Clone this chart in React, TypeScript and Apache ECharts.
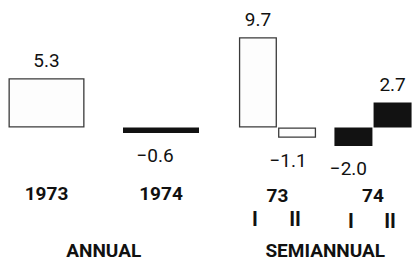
import React, { useEffect, useRef } from "react";
import * as echarts from "echarts";

const annualCats = ["1973", "1974"];
const annualValues = [5.3, -0.6];
const semiCats = ["73", "74"];
const semiFirstHalf = [9.7, -2.0];
const semiSecondHalf = [-1.1, 2.7];
const halfLabels = ["I", "II"];
const groupNames = ["ANNUAL", "SEMIANNUAL"];

const FONT = "'Liberation Sans Narrow', Roboto, sans-serif";
const fmt = (v: number) => (v < 0 ? "\u2212" + Math.abs(v).toFixed(1) : v.toFixed(1));

const lightStyle = { color: "#fdfdfd", borderColor: "#3a3a3a", borderWidth: 1.3 };
const darkStyle = { color: "#121212", borderColor: "#121212", borderWidth: 0 };

export default function App() {
  const ref = useRef<HTMLDivElement>(null);
  useEffect(() => {
    document.body.style.margin = "0";
    const chart = echarts.init(ref.current!, null, { renderer: "svg" });
    const valueLabel = (v: number, offX = 0) => ({
      show: true,
      position: v >= 0 ? "top" : "bottom",
      distance: v >= 0 ? 8 : 13,
      offset: [offX, 0],
      formatter: () => fmt(v),
      fontFamily: FONT,
      fontSize: 19,
      color: "#111",
    });
    const yAxisCommon = {
      type: "value",
      min: -6,
      max: 10,
      show: false,
    };
    const xAxisCommon = {
      type: "category",
      position: "bottom",
      axisLine: { show: false },
      axisTick: { show: false },
      nameLocation: "middle",
      nameMoveOverlap: false,
      nameTextStyle: { fontFamily: FONT, fontSize: 19, fontWeight: "bold", color: "#111" },
      axisLabel: { fontFamily: FONT, fontSize: 19, fontWeight: "bold", color: "#111" },
    };
    const annualOffsets = [0, -6];
    const firstOffsets = [0, -5];
    const secondOffsets = [-9, 0];
    chart.setOption({
      animation: false,
      grid: [
        { left: -10.75, width: 229, top: 34.5, height: 148.8, outerBoundsMode: "none", containLabel: false },
        { left: 229.75, width: 191, top: 34.5, height: 148.8, outerBoundsMode: "none", containLabel: false },
      ],
      xAxis: [
        { ...xAxisCommon, gridIndex: 0, data: annualCats, name: groupNames[0], nameGap: 58, axisLabel: { ...xAxisCommon.axisLabel, margin: 1 } },
        { ...xAxisCommon, gridIndex: 1, data: semiCats, name: groupNames[1], nameGap: 58, axisLabel: { ...xAxisCommon.axisLabel, margin: 3 } },
      ],
      yAxis: [
        { ...yAxisCommon, gridIndex: 0 },
        { ...yAxisCommon, gridIndex: 1 },
      ],
      series: [
        {
          type: "bar",
          xAxisIndex: 0,
          yAxisIndex: 0,
          barWidth: 76,
          data: annualValues.map((v, i) => ({
            value: v,
            itemStyle: i === 0 ? lightStyle : darkStyle,
            label: valueLabel(v, annualOffsets[i]),
          })),
        },
        {
          type: "bar",
          name: halfLabels[0],
          xAxisIndex: 1,
          yAxisIndex: 1,
          barWidth: 38,
          barGap: "3%",
          data: semiFirstHalf.map((v, i) => ({
            value: v,
            itemStyle: i === 0 ? lightStyle : darkStyle,
            label: valueLabel(v, firstOffsets[i]),
          })),
        },
        {
          type: "bar",
          name: halfLabels[1],
          xAxisIndex: 1,
          yAxisIndex: 1,
          barWidth: 38,
          barGap: "3%",
          data: semiSecondHalf.map((v, i) => ({
            value: v,
            itemStyle: i === 0 ? lightStyle : darkStyle,
            label: valueLabel(v, secondOffsets[i]),
          })),
        },
      ],
      graphic: [
        { x: 255, y: 219 },
        { x: 295, y: 219 },
        { x: 351, y: 221 },
        { x: 390, y: 221 },
      ].map((p, i) => ({
        type: "text",
        x: p.x,
        y: p.y,
        style: {
          text: halfLabels[i % 2],
          fontFamily: FONT,
          fontSize: 20,
          fontWeight: "bold",
          fill: "#111",
          align: "center",
          verticalAlign: "middle",
        },
      })),
    });
    return () => chart.dispose();
  }, []);
  return <div ref={ref} style={{ width: 418, height: 265 }} />;
}
